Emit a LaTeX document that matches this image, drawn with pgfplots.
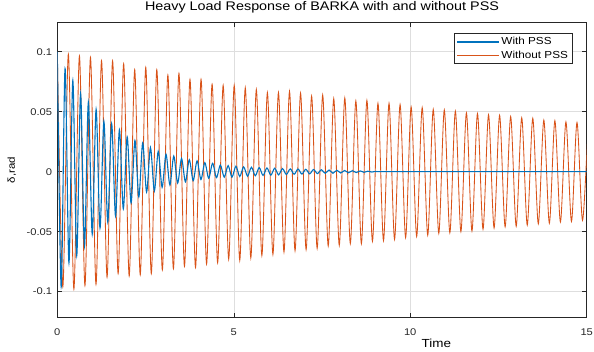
\documentclass[border=0pt]{standalone}
\usepackage{pgfplots}
\pgfplotsset{compat=1.18}
\usepackage{fontspec}
\setmainfont{Liberation Sans}[FakeStretch=1.15]
\definecolor{mblue}{rgb}{0,0.447,0.741}
\definecolor{morange}{rgb}{0.85,0.325,0.098}
\definecolor{maxis}{rgb}{0.15,0.15,0.15}
\begin{document}
\begin{tikzpicture}
\path[use as bounding box] (-57.3pt,-34.3pt) rectangle (536.7pt,317.7pt);
\begin{axis}[
  at={(0pt,0pt)}, anchor=south west,
  scale only axis, width=529.4pt, height=295.4pt,
  xmin=0, xmax=15, ymin=-0.1217, ymax=0.1245,
  xtick={0,5,10,15}, xticklabels={0,5,10,15},
  ytick={-0.1,-0.05,0,0.05,0.1}, yticklabels={-0.1,-0.05,0,0.05,0.1},
  scaled y ticks=false,
  tick align=inside, major tick length=4.5pt,
  axis line style={maxis, line width=0.5pt},
  every tick/.style={maxis, line width=0.5pt},
  grid=major, major grid style={black!13, line width=0.45pt},
  tick label style={font=\fontsize{9.7}{11}\selectfont, text=maxis},
  xticklabel style={anchor=base, yshift=-17.5pt},
  yticklabel style={anchor=east, inner sep=0pt, xshift=-5pt},
  title={Heavy Load Response of BARKA with and without PSS},
  title style={at={(axis description cs:0.5,1)}, anchor=base, yshift=5.3pt, font=\fontsize{12.5}{14}\selectfont, text=black},
  xlabel={Time},
  xlabel style={at={(axis description cs:0.716,0)}, anchor=base, yshift=-29.6pt, font=\fontsize{11.7}{13}\selectfont, text=black},
  ylabel={δ,rad},
  ylabel style={at={(axis description cs:-0.0856,0.5)}, anchor=center, font=\fontsize{10}{12}\selectfont, text=black},
  legend cell align=left,
  reverse legend,
  legend image code/.code={\draw[#1] (0pt,0pt) -- (42pt,0pt);},
  legend style={at={(rel axis cs:1,1)}, anchor=north east, xshift=-14pt, yshift=-11pt,
    draw=maxis, line width=0.5pt, fill=white, inner xsep=3pt, inner ysep=2.5pt,
    font=\fontsize{10.2}{11}\selectfont, row sep=1.3pt,
    nodes={inner sep=1.5pt}},
]
\addplot[morange, line width=0.85pt, smooth] coordinates {
(0,0.100) (0.1567,-0.096) (0.3133,0.098) (0.4700,-0.098) (0.6266,0.0965)
(0.7833,-0.095) (0.9399,0.0953) (1.0966,-0.094) (1.2532,0.0925) (1.4099,-0.088)
(1.5665,0.0924) (1.7232,-0.085) (1.8798,0.090) (2.0365,-0.087) (2.1931,0.085)
(2.3498,-0.086) (2.5064,0.087) (2.6631,-0.085) (2.8197,0.085) (2.9764,-0.082)
(3.1330,0.0806) (3.2897,-0.081) (3.4463,0.082) (3.6030,-0.079) (3.7596,0.077)
(3.9163,-0.080) (4.0729,0.077) (4.2296,-0.077) (4.3862,0.073) (4.5429,-0.076)
(4.6995,0.072) (4.8562,-0.073) (5.0128,0.072) (5.1695,-0.074) (5.3261,0.070)
(5.4828,-0.072) (5.6394,0.0685) (5.7961,-0.070) (5.9527,0.066) (6.1094,-0.069)
(6.2660,0.066) (6.4227,-0.067) (6.5793,0.067) (6.7360,-0.066) (6.8926,0.0655)
(7.0493,-0.065) (7.2059,0.063) (7.3626,-0.064) (7.5192,0.064) (7.6759,-0.062)
(7.8325,0.061) (7.9892,-0.0615) (8.1458,0.0615) (8.3025,-0.060) (8.4591,0.059)
(8.6158,-0.060) (8.7724,0.0595) (8.9291,-0.058) (9.0857,0.057) (9.2424,-0.0575)
(9.3990,0.057) (9.5557,-0.0565) (9.7123,0.056) (9.8690,-0.055) (10.0256,0.054)
(10.1823,-0.054) (10.3389,0.0535) (10.4956,-0.053) (10.6522,0.052) (10.8089,-0.0515)
(10.9655,0.0515) (11.1222,-0.051) (11.2788,0.0505) (11.4355,-0.050) (11.5921,0.049)
(11.7488,-0.0495) (11.9054,0.0485) (12.0621,-0.048) (12.2187,0.0475) (12.3754,-0.047)
(12.5320,0.047) (12.6887,-0.046) (12.8453,0.046) (13.0020,-0.0455) (13.1586,0.045)
(13.3153,-0.0445) (13.4719,0.0445) (13.6286,-0.0435) (13.7852,0.043) (13.9419,-0.043)
(14.0985,0.0425) (14.2552,-0.042) (14.4118,0.0415) (14.5685,-0.0415) (14.7251,0.041)
(14.8818,-0.0405) (15.0384,0.040)
};
\addlegendentry{Without PSS}
\addplot[mblue, line width=1.1pt, smooth] coordinates {
(0,0.1) (0.11,-0.096) (0.22,0.086) (0.33,-0.076) (0.44,0.076) (0.55,-0.070)
(0.66,0.065) (0.77,-0.062) (0.88,0.058) (0.99,-0.052) (1.10,0.052) (1.21,-0.047)
(1.32,0.042) (1.43,-0.042) (1.54,0.040) (1.65,-0.037) (1.76,0.035) (1.87,-0.031)
(1.98,0.029) (2.09,-0.026) (2.20,0.026) (2.31,-0.021) (2.42,0.024) (2.53,-0.017)
(2.64,0.020) (2.75,-0.016) (2.86,0.017) (2.97,-0.013) (3.08,0.0145) (3.19,-0.011)
(3.30,0.013) (3.41,-0.0095) (3.52,0.011) (3.63,-0.0085) (3.74,0.010) (3.85,-0.0075)
(3.96,0.009) (4.07,-0.0065) (4.18,0.0075) (4.29,-0.0055) (4.40,0.007) (4.51,-0.005)
(4.62,0.0055) (4.73,-0.0045) (4.84,0.005) (4.95,-0.0045) (5.06,0.0045) (5.17,-0.004)
(5.28,0.004) (5.39,-0.0037) (5.50,0.0037) (5.61,-0.0034) (5.72,0.0034) (5.83,-0.0031)
(5.94,0.0031) (6.05,-0.0029) (6.16,0.0029) (6.27,-0.0027) (6.38,0.0026) (6.49,-0.0024)
(6.60,0.0024) (6.71,-0.0022) (6.82,0.0022) (6.93,-0.002) (7.04,0.002) (7.15,-0.0018)
(7.26,0.0018) (7.37,-0.0016) (7.48,0.0016) (7.59,-0.0014) (7.70,0.0014) (7.81,-0.0013)
(7.92,0.0012) (8.03,-0.0011) (8.14,0.001) (8.25,-0.0009) (8.36,0.0008) (8.47,-0.0007)
(8.58,0.0006) (8.69,-0.0005) (8.80,0.0004) (8.91,-0.0003) (9.02,0.0002) (9.13,0)
(10,0) (12,0) (15,0)
};
\addlegendentry{With PSS}
\end{axis}
\end{tikzpicture}
\end{document}
